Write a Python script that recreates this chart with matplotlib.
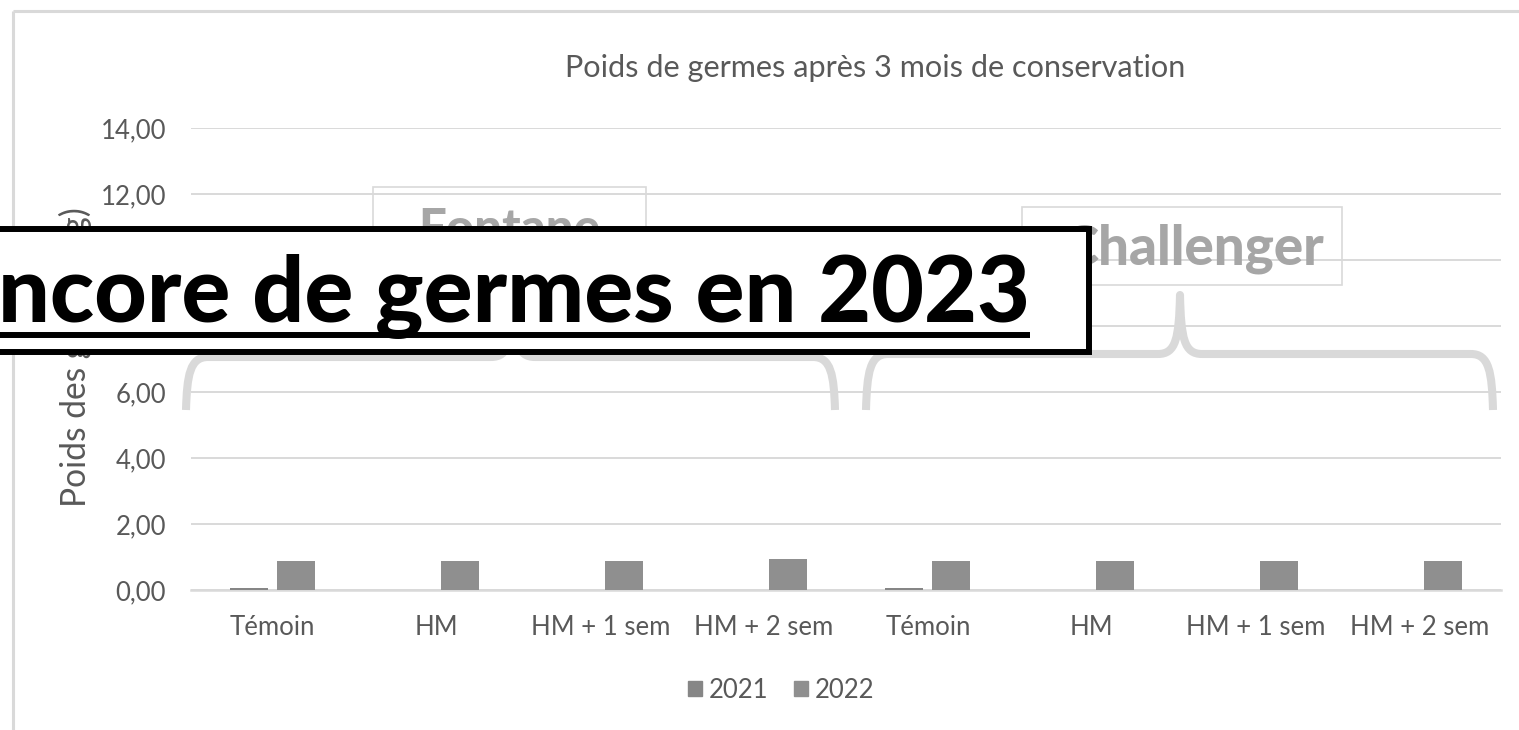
import matplotlib
matplotlib.use('Agg')
import matplotlib.pyplot as plt
from matplotlib.path import Path
from matplotlib.patches import PathPatch, Rectangle, Patch
import numpy as np

# ---------------- data ----------------
categories = ['Témoin', 'HM', 'HM + 1 sem', 'HM + 2 sem',
              'Témoin', 'HM', 'HM + 1 sem', 'HM + 2 sem']
series_names = ['2021', '2022']
values_2021 = [0.07, 0.0, 0.0, 0.0, 0.06, 0.0, 0.0, 0.0]
values_2022 = [0.88, 0.88, 0.88, 0.95, 0.88, 0.88, 0.88, 0.88]
yticks = [0, 2, 4, 6, 8, 10, 12, 14]
ytick_labels = ['0,00', '2,00', '4,00', '6,00', '8,00', '10,00', '12,00', '14,00']
title = 'Poids de germes après 3 mois de conservation'
ylabel = 'Poids des germes (g)'
group_labels = ['Fontane', 'Challenger']
banner = 'ncore de germes en 2023'

W, H = 1519, 730
plt.rcParams['font.family'] = ['Lato', 'DejaVu Sans']
fig = plt.figure(figsize=(W / 100, H / 100), dpi=100)
fig.patch.set_facecolor('white')


def fx(x):
    return x / W


def fy(y):
    return 1 - y / H


TXT = '#595959'
GRID = '#d9d9d9'

ax = fig.add_axes([fx(191), fy(590), fx(1501) - fx(191), fy(128) - fy(590)])
x = np.arange(len(categories))
w = 0.232
off = 0.1435
ax.bar(x - off, values_2021, w, color='#868686', zorder=3, label=series_names[0])
ax.bar(x + off, values_2022, w, color='#8f8f8f', zorder=3, label=series_names[1])
ax.set_xlim(-0.5, len(categories) - 0.5)
ax.set_ylim(0, 14)
ax.set_yticks(yticks)
ax.set_yticklabels(ytick_labels)
ax.set_xticks(x)
ax.set_xticklabels(categories)
ax.grid(axis='y', color=GRID, lw=1.4)
ax.set_axisbelow(True)
for s in ['top', 'right', 'left']:
    ax.spines[s].set_visible(False)
ax.spines['bottom'].set_color(GRID)
ax.spines['bottom'].set_linewidth(1.8)
ax.tick_params(axis='both', length=0, colors=TXT, labelsize=18.5)
ax.tick_params(axis='y', pad=18)
ax.tick_params(axis='x', pad=18)

renderer = fig.canvas.get_renderer()


def fit(t, target, vertical=False):
    for _ in range(4):
        bb = t.get_window_extent(renderer)
        cur = bb.height if vertical else bb.width
        t.set_fontsize(t.get_fontsize() * target / cur)


yl = fig.text(fx(75), fy(357), ylabel, rotation=90, ha='center', va='center',
              fontsize=20, color=TXT)
fit(yl, 300, vertical=True)

tt = fig.text(fx(875), fy(68), title, ha='center', va='center', fontsize=20, color=TXT)
fit(tt, 620)

handles = [Patch(color='#868686'), Patch(color='#8f8f8f')]
leg = fig.legend(handles, series_names, loc='center', bbox_to_anchor=(fx(781), fy(690)),
                 ncol=2, frameon=False, fontsize=18.5, handlelength=0.55, handleheight=0.55,
                 handletextpad=0.25, columnspacing=1.0)
for t in leg.get_texts():
    t.set_color(TXT)

# ---------------- overlay ----------------
ov = fig.add_axes([0, 0, 1, 1], zorder=10)
ov.set_xlim(0, W)
ov.set_ylim(H, 0)
ov.axis('off')
ov.patch.set_alpha(0)

# chart frame
ov.plot([13, 13], [11, H + 5], color=GRID, lw=2.2, zorder=1, solid_capstyle='butt')
ov.plot([13, W + 5], [11, 11], color=GRID, lw=2.2, zorder=1, solid_capstyle='butt')


def brace(x0, x1, xc, yb, yh, yt, r=22):
    verts = [(x0, yb),
             (x0 + 1, yh + 18), (x0 + 4, yh), (x0 + r, yh),
             (xc - r, yh),
             (xc - 4, yh), (xc - 1, yh - 16), (xc, yt),
             (xc + 1, yh - 16), (xc + 4, yh), (xc + r, yh),
             (x1 - r, yh),
             (x1 - 4, yh), (x1 - 1, yh + 18), (x1, yb)]
    codes = ([Path.MOVETO] + [Path.CURVE4] * 3 + [Path.LINETO] + [Path.CURVE4] * 6 +
             [Path.LINETO] + [Path.CURVE4] * 3)
    return PathPatch(Path(verts, codes), fill=False, edgecolor=GRID, lw=5.8,
                     capstyle='butt', joinstyle='round', zorder=2)


ov.add_patch(brace(186, 835, 513, 410, 357, 300))
ov.add_patch(brace(866, 1493, 1180, 410, 354, 295))

# group label boxes
ov.add_patch(Rectangle((373, 187), 273, 78, fill=False, edgecolor=GRID, lw=1.2, zorder=2))
ov.add_patch(Rectangle((1022, 207), 320, 78, fill=False, edgecolor=GRID, lw=1.2, zorder=2))
t1 = ov.text(509, 244, group_labels[0], ha='center', va='baseline', color='#a6a6a6',
             fontweight='black', family=['Lato', 'DejaVu Sans'], fontsize=30, zorder=2)
fit(t1, 182)
t2 = ov.text(1324, 264, group_labels[1], ha='right', va='baseline', color='#a6a6a6',
             fontweight='black', family=['Lato', 'DejaVu Sans'], fontsize=30, zorder=2)
fit(t2, 262)

# banner box
ov.add_patch(Rectangle((-20, 229), 1109, 123, facecolor='white', edgecolor='black',
                       lw=4.3, zorder=5))
tb = ov.text(-2, 322, banner, ha='left', va='baseline', color='black',
             fontweight='black', family=['Lato', 'DejaVu Sans'], fontsize=50, zorder=6)
fit(tb, 1032)
ov.plot([0, 1030], [335, 335], color='black', lw=4.3, solid_capstyle='butt', zorder=6)

fig.savefig('out.png', dpi=100)
